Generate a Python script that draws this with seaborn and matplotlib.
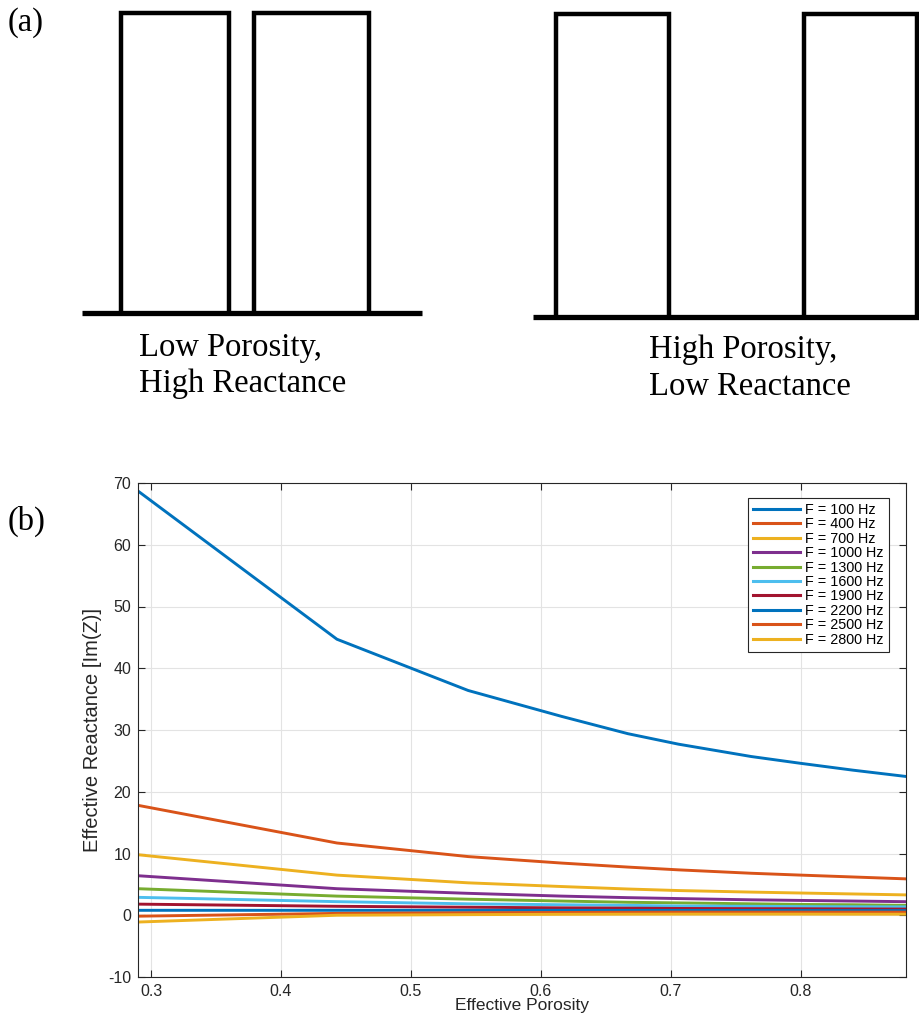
import matplotlib
matplotlib.use("Agg")
import matplotlib.pyplot as plt
import seaborn as sns
import pandas as pd

# ---------------- data ----------------
porosity = [0.2899, 0.443, 0.544, 0.616, 0.667, 0.706, 0.762, 0.80, 0.84, 0.88]
freq_labels = ["F = 100 Hz", "F = 400 Hz", "F = 700 Hz", "F = 1000 Hz", "F = 1300 Hz",
               "F = 1600 Hz", "F = 1900 Hz", "F = 2200 Hz", "F = 2500 Hz", "F = 2800 Hz"]
x_100 = [68.7, 44.7, 36.4, 32.2, 29.4, 27.7, 25.7, 24.6, 23.5, 22.5]
x_400 = [17.8, 11.7, 9.5, 8.45, 7.8, 7.35, 6.8, 6.5, 6.2, 5.9]
x_700 = [9.8, 6.5, 5.25, 4.65, 4.25, 4.0, 3.75, 3.6, 3.45, 3.3]
x_1000 = [6.4, 4.3, 3.55, 3.1, 2.85, 2.7, 2.5, 2.4, 2.3, 2.2]
x_1300 = [4.3, 3.1, 2.6, 2.3, 2.1, 2.0, 1.85, 1.75, 1.7, 1.6]
x_1600 = [2.9, 2.2, 1.85, 1.7, 1.6, 1.5, 1.45, 1.4, 1.37, 1.35]
x_1900 = [1.8, 1.45, 1.3, 1.2, 1.15, 1.1, 1.07, 1.05, 1.02, 1.0]
x_2200 = [0.8, 0.8, 0.8, 0.8, 0.78, 0.78, 0.77, 0.76, 0.75, 0.75]
x_2500 = [-0.15, 0.3, 0.4, 0.45, 0.48, 0.5, 0.5, 0.5, 0.5, 0.5]
x_2800 = [-1.1, 0.0, 0.1, 0.15, 0.17, 0.18, 0.18, 0.18, 0.17, 0.17]
series = [x_100, x_400, x_700, x_1000, x_1300, x_1600, x_1900, x_2200, x_2500, x_2800]
colors = ["#0072BD", "#D95319", "#EDB120", "#7E2F8E", "#77AC30",
          "#4DBEEE", "#A2142F", "#0072BD", "#D95319", "#EDB120"]
yticks = [-10, 0, 10, 20, 30, 40, 50, 60, 70]
xticks = [0.3, 0.4, 0.5, 0.6, 0.7, 0.8]

rows = []
for lab, vals in zip(freq_labels, series):
    for p, v in zip(porosity, vals):
        rows.append({"Effective Porosity": p, "Reactance": v, "F": lab})
df = pd.DataFrame(rows)

# ---------------- figure ----------------
W, H = 919, 1015
fig = plt.figure(figsize=(W / 100, H / 100), dpi=100)

# panel (a) schematic in pixel coordinates
ov = fig.add_axes([0, 0, 1, 1])
ov.set_xlim(0, W)
ov.set_ylim(H, 0)
ov.axis("off")
serif = ["Liberation Serif", "DejaVu Serif"]
lw_r = 3.2
# left group
ov.plot([82, 422], [313, 313], color="black", lw=3.8, solid_capstyle="butt")
for x0, x1 in [(121, 229), (254, 369)]:
    ov.plot([x0, x0, x1, x1], [313, 13, 13, 313], color="black", lw=lw_r,
            solid_joinstyle="miter")
# right group
ov.plot([533, 919], [317, 317], color="black", lw=3.8, solid_capstyle="butt")
for x0, x1 in [(556, 669), (804, 917)]:
    ov.plot([x0, x0, x1, x1], [317, 14, 14, 317], color="black", lw=lw_r,
            solid_joinstyle="miter")

fs_a = 23.5
ov.text(8, 31, "(a)", family=serif, fontsize=fs_a, va="baseline", ha="left")
ov.text(8, 530, "(b)", family=serif, fontsize=fs_a, va="baseline", ha="left")
ov.text(139, 356, "Low Porosity,", family=serif, fontsize=fs_a, va="baseline")
ov.text(139, 392, "High Reactance", family=serif, fontsize=fs_a, va="baseline")
ov.text(649, 358, "High Porosity,", family=serif, fontsize=fs_a, va="baseline")
ov.text(649, 395, "Low Reactance", family=serif, fontsize=fs_a, va="baseline")

# panel (b)
left, right, top, bottom = 138, 906, 483, 977
ax = fig.add_axes([left / W, 1 - bottom / H, (right - left) / W, (bottom - top) / H])
sans = ["Liberation Sans", "DejaVu Sans"]

sns.lineplot(data=df, x="Effective Porosity", y="Reactance", hue="F",
             hue_order=freq_labels, palette=colors, linewidth=2.1, ax=ax,
             estimator=None, sort=False)

ax.set_xlim(0.2899, 0.881)
ax.set_ylim(-10, 70)
ax.set_xticks(xticks)
ax.set_yticks(yticks)
ax.set_xticklabels([f"{t:g}" for t in xticks], family=sans, fontsize=11.5, color="#262626")
ax.set_yticklabels([f"{t:g}" for t in yticks], family=sans, fontsize=11.5, color="#262626")
ax.tick_params(direction="in", top=True, right=True, length=5, width=0.8,
               color="#262626", pad=5)
ax.grid(True, color="#e3e3e3", linewidth=0.8)
ax.set_axisbelow(True)
for s in ax.spines.values():
    s.set_color("#262626")
    s.set_linewidth(0.8)
ax.set_xlabel("Effective Porosity", family=sans, fontsize=12.5, color="#262626", labelpad=-1)
ax.set_ylabel("Effective Reactance [Im(Z)]", family=sans, fontsize=14.5, color="#262626",
              labelpad=4)

sns.move_legend(ax, "upper right", bbox_to_anchor=(0.978, 0.970), borderaxespad=0,
                title=None, frameon=True, fancybox=False, framealpha=1,
                edgecolor="#262626", prop={"family": sans, "size": 10.4},
                labelspacing=0.03, handlelength=3.3, handletextpad=0.35,
                borderpad=0.35)
leg = ax.get_legend()
leg.get_frame().set_linewidth(0.8)
for h in leg.legend_handles:
    h.set_linewidth(2.2)

fig.savefig("out.png", dpi=100, facecolor="white")
